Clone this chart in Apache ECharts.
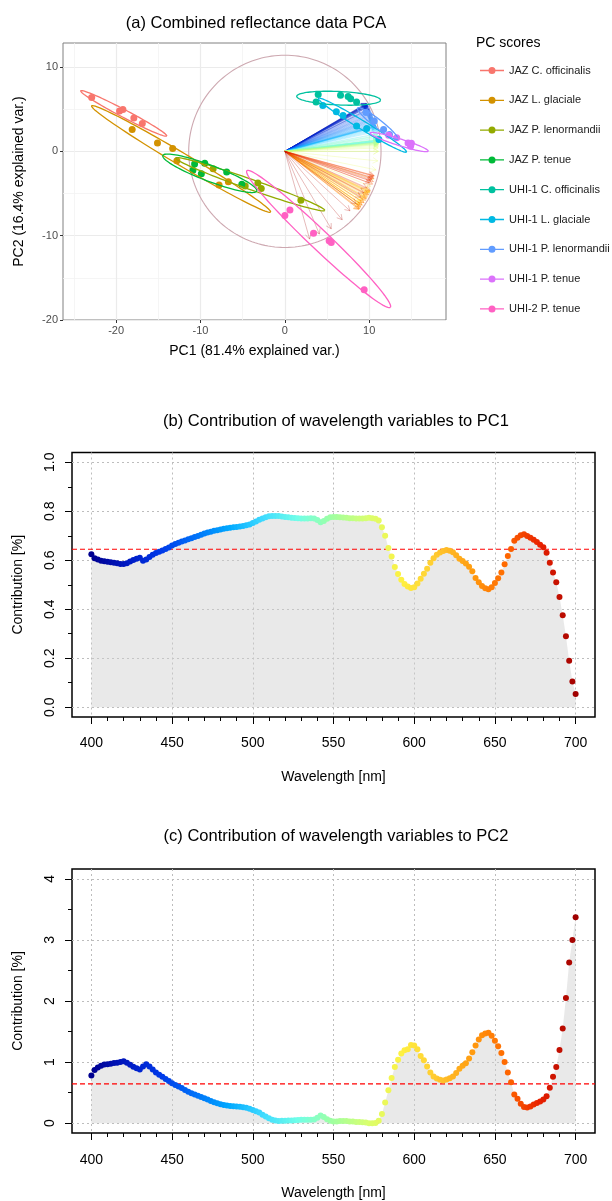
<!DOCTYPE html>
<html>
<head>
<meta charset="UTF-8">
<title>PCA reflectance</title>
<script src="https://cdn.jsdelivr.net/npm/echarts@6.0.0/dist/echarts.min.js"></script>
<style>
  html, body { margin: 0; padding: 0; background: #fff; }
  #main { width: 612px; height: 1201px; }
</style>
</head>
<body>
<div id="main"></div>
<script>
// ---------- panel (a): PCA scores ----------
var groupNames = ['JAZ C. officinalis', 'JAZ L. glaciale', 'JAZ P. lenormandii', 'JAZ P. tenue',
  'UHI-1 C. officinalis', 'UHI-1 L. glaciale', 'UHI-1 P. lenormandii', 'UHI-1 P. tenue', 'UHI-2 P. tenue'];
var groupColors = ['#F8766D', '#D39200', '#93AA00', '#00BA38', '#00C19F', '#00B9E3', '#619CFF', '#DB72FB', '#FF61C3'];

var jazCoff = [[-22.9, 6.4], [-19.6, 4.8], [-19.2, 4.95], [-17.9, 3.95], [-16.9, 3.3]];
var jazLgla = [[-18.1, 2.6], [-15.1, 1.0], [-13.3, 0.35], [-12.8, -1.1], [-7.8, -4.0], [-6.7, -3.6]];
var jazPlen = [[-8.5, -2.05], [-4.7, -4.1], [-3.2, -3.75], [-2.8, -4.4], [1.9, -5.8]];
var jazPten = [[-10.7, -1.5], [-10.9, -2.25], [-9.9, -2.65], [-9.5, -1.4], [-6.9, -2.45], [-5.1, -3.9]];
var uhi1Coff = [[3.95, 6.75], [3.7, 5.85], [6.6, 6.65], [7.5, 6.5], [7.8, 6.25], [8.5, 5.85]];
var uhi1Lgla = [[4.5, 5.45], [6.1, 4.7], [6.9, 4.25], [8.5, 3.0], [9.7, 2.7], [11.15, 1.4]];
var uhi1Plen = [[9.6, 4.6], [10.6, 3.6], [11.7, 2.6], [12.4, 2.0]];
var uhi1Pten = [[12.3, 1.9], [13.25, 1.6], [14.6, 1.0], [14.9, 0.6], [15.0, 0.95]];
var uhi2Pten = [[0, -7.6], [0.6, -6.95], [3.4, -9.7], [5.25, -10.6], [5.5, -10.8], [9.4, -16.4]];
var groupPoints = [jazCoff, jazLgla, jazPlen, jazPten, uhi1Coff, uhi1Lgla, uhi1Plen, uhi1Pten, uhi2Pten];

// ellipse per group: [centre x, centre y, semi-major, semi-minor, angle (deg)]
var groupEllipses = [
  [-19.1, 4.5, 5.75, 0.45, -27.7],
  [-12.3, -0.9, 12.33, 0.75, -30.7],
  [-4.1, -3.9, 9.35, 0.6, -19.4],
  [-8.9, -2.6, 5.95, 0.95, -20.7],
  [6.37, 6.3, 4.97, 0.8, -2.6],
  [9.2, 3.1, 6.1, 0.5, -31.4],
  [11.0, 3.3, 3.0, 0.5, -38],
  [13.55, 1.1, 3.6, 0.4, -17.4],
  [4.0, -10.4, 11.74, 1.15, -43.6]
];
var circleR = 11.4;
var varRatio = Math.sqrt(81.4 / 16.4);   // sdev PC1 / sdev PC2
var pc2SignFlip = 578;                   // PC2 loadings change sign here

var pcaXTicks = [-20, -10, 0, 10];
var pcaXMinor = [-25, -15, -5, 5, 15];
var pcaYTicks = [-20, -10, 0, 10];
var pcaYMinor = [-15, -5, 5];

// ---------- panels (b) and (c): contributions ----------
var wavelengths = [400, 402, 404, 406, 408, 410, 412, 414, 416, 418, 420, 422, 424, 426, 428, 430, 432, 434, 436, 438,
  440, 442, 444, 446, 448, 450, 452, 454, 456, 458, 460, 462, 464, 466, 468, 470, 472, 474, 476, 478,
  480, 482, 484, 486, 488, 490, 492, 494, 496, 498, 500, 502, 504, 506, 508, 510, 512, 514, 516, 518,
  520, 522, 524, 526, 528, 530, 532, 534, 536, 538, 540, 542, 544, 546, 548, 550, 552, 554, 556, 558,
  560, 562, 564, 566, 568, 570, 572, 574, 576, 578, 580, 582, 584, 586, 588, 590, 592, 594, 596, 598,
  600, 602, 604, 606, 608, 610, 612, 614, 616, 618, 620, 622, 624, 626, 628, 630, 632, 634, 636, 638,
  640, 642, 644, 646, 648, 650, 652, 654, 656, 658, 660, 662, 664, 666, 668, 670, 672, 674, 676, 678,
  680, 682, 684, 686, 688, 690, 692, 694, 696, 698, 700];

var contribPC1 = [0.625, 0.608, 0.603, 0.598, 0.596, 0.594, 0.592, 0.590, 0.588, 0.585,
  0.585, 0.588, 0.595, 0.601, 0.606, 0.610, 0.598, 0.603, 0.613, 0.622,
  0.630, 0.635, 0.640, 0.646, 0.652, 0.660, 0.666, 0.672, 0.677, 0.681,
  0.686, 0.690, 0.695, 0.699, 0.704, 0.709, 0.713, 0.716, 0.720, 0.723,
  0.726, 0.729, 0.731, 0.733, 0.735, 0.736, 0.738, 0.740, 0.743, 0.746,
  0.752, 0.758, 0.765, 0.771, 0.776, 0.780, 0.781, 0.781, 0.781, 0.779,
  0.777, 0.776, 0.774, 0.773, 0.772, 0.771, 0.771, 0.771, 0.772, 0.771,
  0.764, 0.755, 0.760, 0.770, 0.776, 0.777, 0.777, 0.776, 0.775, 0.774,
  0.772, 0.772, 0.771, 0.771, 0.771, 0.772, 0.774, 0.772, 0.769, 0.762,
  0.735, 0.700, 0.650, 0.615, 0.572, 0.544, 0.520, 0.503, 0.493, 0.487,
  0.490, 0.505, 0.525, 0.545, 0.565, 0.590, 0.608, 0.622, 0.632, 0.638,
  0.642, 0.639, 0.633, 0.620, 0.606, 0.597, 0.587, 0.574, 0.555, 0.528,
  0.510, 0.495, 0.486, 0.482, 0.490, 0.507, 0.527, 0.550, 0.584, 0.617,
  0.646, 0.680, 0.692, 0.702, 0.706, 0.699, 0.692, 0.684, 0.675, 0.663,
  0.653, 0.631, 0.590, 0.550, 0.510, 0.450, 0.375, 0.290, 0.190, 0.105,
  0.054];

var contribPC2 = [0.78, 0.87, 0.91, 0.94, 0.96, 0.967, 0.975, 0.984, 0.99, 1.0,
  1.015, 0.99, 0.955, 0.925, 0.90, 0.88, 0.93, 0.965, 0.93, 0.88,
  0.83, 0.795, 0.76, 0.725, 0.69, 0.655, 0.625, 0.60, 0.575, 0.545,
  0.515, 0.49, 0.47, 0.45, 0.43, 0.41, 0.39, 0.365, 0.345, 0.325,
  0.31, 0.30, 0.29, 0.282, 0.277, 0.273, 0.268, 0.262, 0.255, 0.235,
  0.215, 0.195, 0.175, 0.14, 0.11, 0.08, 0.055, 0.045, 0.038, 0.04,
  0.042, 0.044, 0.046, 0.05, 0.053, 0.055, 0.055, 0.055, 0.055, 0.062,
  0.09, 0.125, 0.10, 0.065, 0.04, 0.027, 0.03, 0.035, 0.038, 0.035,
  0.03, 0.027, 0.022, 0.02, 0.016, 0.01, 0.0, 0.0, 0.005, 0.04,
  0.15, 0.34, 0.54, 0.74, 0.92, 1.04, 1.14, 1.195, 1.21, 1.28,
  1.27, 1.21, 1.10, 1.03, 0.93, 0.83, 0.765, 0.73, 0.71, 0.70,
  0.715, 0.735, 0.765, 0.82, 0.89, 0.94, 0.98, 1.06, 1.16, 1.27,
  1.37, 1.44, 1.47, 1.48, 1.43, 1.35, 1.26, 1.15, 1.0, 0.83,
  0.67, 0.47, 0.40, 0.32, 0.265, 0.256, 0.272, 0.305, 0.33, 0.355,
  0.39, 0.44, 0.58, 0.76, 0.92, 1.2, 1.55, 2.05, 2.63, 3.0,
  3.37];

var meanContrib = 0.645;
var wlMin = 388, wlMax = 712;
var wlTicks = [400, 450, 500, 550, 600, 650, 700];
var wlMinor = [410, 420, 430, 440, 460, 470, 480, 490, 510, 520, 530, 540, 560, 570, 580, 590,
  610, 620, 630, 640, 660, 670, 680, 690];
var pc1Ticks = [0, 0.2, 0.4, 0.6, 0.8, 1.0];
var pc1Minor = [0.1, 0.3, 0.5, 0.7, 0.9];
var pc2Ticks = [0, 1, 2, 3, 4];
var pc2Minor = [0.5, 1.5, 2.5, 3.5];

var spectrum = ['#000090', '#0018C0', '#0038E8', '#0070F8', '#00A8FF', '#40DCFF', '#70FFE8', '#A0FFA0',
  '#D8FF70', '#FFF040', '#FFC830', '#FF9C10', '#FF6800', '#E82000', '#A00000'];

// ---------- build ----------
var font = 'Liberation Sans, Arial, sans-serif';

function pairs(xs, ys) {
  return xs.map(function (x, i) { return [x, ys[i]]; });
}

// loading arrows: direction from the two contribution profiles
var arrowRaw = wavelengths.map(function (wl, i) {
  return [wl, varRatio * Math.sqrt(contribPC1[i]), (wl < pc2SignFlip ? 1 : -1) * Math.sqrt(contribPC2[i])];
});
var maxLen = 0;
arrowRaw.forEach(function (d) { maxLen = Math.max(maxLen, Math.sqrt(d[1] * d[1] + d[2] * d[2])); });
var arrowData = arrowRaw.map(function (d) {
  return [d[0], d[1] * circleR * 0.99 / maxLen, d[2] * circleR * 0.99 / maxLen];
});

function renderCircle(params, api) {
  var pts = [];
  for (var k = 0; k <= 180; k++) {
    var t = k / 180 * 2 * Math.PI;
    pts.push(api.coord([api.value(2) * Math.cos(t), api.value(2) * Math.sin(t)]));
  }
  return { type: 'polyline', shape: { points: pts }, style: { stroke: '#CDA8B0', fill: null, lineWidth: 1.1 } };
}

function renderEllipse(params, api) {
  var cx = api.value(0), cy = api.value(1), a = api.value(2), b = api.value(3);
  var ang = api.value(4) * Math.PI / 180;
  var pts = [];
  for (var k = 0; k <= 100; k++) {
    var t = k / 100 * 2 * Math.PI;
    var ex = a * Math.cos(t), ey = b * Math.sin(t);
    pts.push(api.coord([cx + ex * Math.cos(ang) - ey * Math.sin(ang), cy + ex * Math.sin(ang) + ey * Math.cos(ang)]));
  }
  return { type: 'polyline', shape: { points: pts }, style: { stroke: api.visual('color'), fill: null, lineWidth: 1.3 } };
}

function renderArrow(params, api) {
  var o = api.coord([0, 0]);
  var t = api.coord([api.value(1), api.value(2)]);
  var dx = t[0] - o[0], dy = t[1] - o[1];
  var len = Math.sqrt(dx * dx + dy * dy) || 1;
  var ux = dx / len, uy = dy / len, h = 5, w = h * Math.tan(Math.PI / 6);
  var p1 = [t[0] - ux * h - uy * w, t[1] - uy * h + ux * w];
  var p2 = [t[0] - ux * h + uy * w, t[1] - uy * h - ux * w];
  var col = api.visual('color');
  return {
    type: 'group',
    children: [
      { type: 'line', shape: { x1: o[0], y1: o[1], x2: t[0], y2: t[1] }, style: { stroke: col, lineWidth: 0.8, opacity: 0.35 } },
      { type: 'polyline', shape: { points: [p1, t, p2] }, style: { stroke: col, fill: null, lineWidth: 0.8, opacity: 0.35 } }
    ]
  };
}

var series = [];
series.push({
  type: 'custom', name: 'circle', xAxisIndex: 0, yAxisIndex: 0, z: 1, silent: true,
  renderItem: renderCircle, encode: { x: 0, y: 1 }, data: [[0, 0, circleR]]
});
var arrowIdx = series.length;
series.push({
  type: 'custom', name: 'loadings', xAxisIndex: 0, yAxisIndex: 0, z: 2, silent: true,
  renderItem: renderArrow, encode: { x: 1, y: 2 }, data: arrowData
});
groupNames.forEach(function (n, i) {
  series.push({
    type: 'scatter', name: n, xAxisIndex: 0, yAxisIndex: 0, z: 3,
    symbolSize: 7, itemStyle: { color: groupColors[i], opacity: 1 }, data: groupPoints[i]
  });
});
groupNames.forEach(function (n, i) {
  series.push({
    type: 'custom', name: n, xAxisIndex: 0, yAxisIndex: 0, z: 4, silent: true,
    itemStyle: { color: groupColors[i] },
    renderItem: renderEllipse, encode: { x: 0, y: 1 }, data: [groupEllipses[i]]
  });
});

var idxB, idxC;
[[contribPC1, 2], [contribPC2, 4]].forEach(function (cfg, k) {
  var axisIdx = cfg[1];
  series.push({
    type: 'line', xAxisIndex: axisIdx, yAxisIndex: axisIdx, data: pairs(wavelengths, cfg[0]),
    symbol: 'none', silent: true, z: 1,
    lineStyle: { width: 0, opacity: 0 },
    areaStyle: { color: '#CFCFCF', opacity: 0.45 }
  });
  // mean contribution reference line, spanning the plot box
  series.push({
    type: 'line', xAxisIndex: axisIdx, yAxisIndex: axisIdx, data: [[wlMin, meanContrib], [wlMax, meanContrib]],
    symbol: 'none', silent: true, z: 2, itemStyle: { color: '#FF0000' },
    lineStyle: { color: '#FF0000', type: [5, 3], width: 1.2 }
  });
  if (k === 0) idxB = series.length; else idxC = series.length;
  series.push({
    type: 'scatter', xAxisIndex: axisIdx, yAxisIndex: axisIdx, data: pairs(wavelengths, cfg[0]),
    symbolSize: 6, z: 3, itemStyle: { opacity: 1 }
  });
});

function rAxisX(grid, ticks, minor, name, margin, gap) {
  return [{
    gridIndex: grid, type: 'value', min: wlMin, max: wlMax, position: 'bottom',
    axisLine: { show: false, onZero: false },
    axisTick: { show: true, customValues: ticks, length: 7, lineStyle: { color: '#000', width: 1 } },
    axisLabel: { customValues: ticks, color: '#000', fontSize: 14, margin: margin, fontFamily: font },
    splitLine: { show: true, lineStyle: { color: '#BDBDBD', type: [2, 3], width: 1 } },
    name: name, nameLocation: 'middle', nameGap: gap,
    nameTextStyle: { color: '#000', fontSize: 14, fontFamily: font }
  }, {
    gridIndex: grid, type: 'value', min: wlMin, max: wlMax, position: 'bottom',
    axisLine: { show: false, onZero: false },
    axisTick: { show: true, customValues: minor, length: 4, lineStyle: { color: '#000', width: 1 } },
    axisLabel: { show: false }, splitLine: { show: false }
  }];
}
function rAxisY(grid, min, max, ticks, minor, digits) {
  return [{
    gridIndex: grid, type: 'value', min: min, max: max, position: 'left',
    axisLine: { show: false, onZero: false },
    axisTick: { show: true, customValues: ticks, length: 7, lineStyle: { color: '#000', width: 1 } },
    axisLabel: {
      customValues: ticks, color: '#000', fontSize: 14, margin: 15, rotate: 90, fontFamily: font,
      formatter: function (v) { return v.toFixed(digits); }
    },
    splitLine: { show: true, lineStyle: { color: '#BDBDBD', type: [2, 3], width: 1 } },
    name: 'Contribution [%]', nameLocation: 'middle', nameGap: 47,
    nameTextStyle: { color: '#000', fontSize: 14, fontFamily: font }
  }, {
    gridIndex: grid, type: 'value', min: min, max: max, position: 'left',
    axisLine: { show: false, onZero: false },
    axisTick: { show: true, customValues: minor, length: 4, lineStyle: { color: '#000', width: 1 } },
    axisLabel: { show: false }, splitLine: { show: false }
  }];
}

var xAxes = [{
  gridIndex: 0, type: 'value', min: -26.3, max: 19.1, position: 'bottom',
  axisLine: { show: false, onZero: false },
  axisTick: { show: true, customValues: pcaXTicks, length: 3, lineStyle: { color: '#333' } },
  axisLabel: { customValues: pcaXTicks, color: '#4D4D4D', fontSize: 11, margin: 5, fontFamily: font },
  splitLine: { show: true, lineStyle: { color: '#EBEBEB', width: 1.2 } },
  name: 'PC1 (81.4% explained var.)', nameLocation: 'middle', nameGap: 24,
  nameTextStyle: { color: '#000', fontSize: 14, fontFamily: font }
}, {
  gridIndex: 0, type: 'value', min: -26.3, max: 19.1, position: 'top',
  axisLine: { show: false, onZero: false }, axisTick: { show: false, customValues: pcaXMinor },
  axisLabel: { show: false, customValues: pcaXMinor },
  splitLine: { show: true, lineStyle: { color: '#F2F2F2', width: 0.8 } }
}].concat(rAxisX(1, wlTicks, wlMinor, 'Wavelength [nm]', 19, 53), rAxisX(2, wlTicks, wlMinor, 'Wavelength [nm]', 20, 53));

var yAxes = [{
  gridIndex: 0, type: 'value', min: -20, max: 12.85, position: 'left',
  axisLine: { show: false, onZero: false },
  axisTick: { show: true, customValues: pcaYTicks, length: 3, lineStyle: { color: '#333' } },
  axisLabel: { customValues: pcaYTicks, color: '#4D4D4D', fontSize: 11, margin: 5, fontFamily: font },
  splitLine: { show: true, lineStyle: { color: '#EBEBEB', width: 1.2 } },
  name: 'PC2 (16.4% explained var.)', nameLocation: 'middle', nameGap: 37,
  nameTextStyle: { color: '#000', fontSize: 14, fontFamily: font }
}, {
  gridIndex: 0, type: 'value', min: -20, max: 12.85, position: 'right',
  axisLine: { show: false, onZero: false }, axisTick: { show: false, customValues: pcaYMinor },
  axisLabel: { show: false, customValues: pcaYMinor },
  splitLine: { show: true, lineStyle: { color: '#F2F2F2', width: 0.8 } }
}].concat(rAxisY(1, -0.04, 1.04, pc1Ticks, pc1Minor, 1), rAxisY(2, -0.16, 4.16, pc2Ticks, pc2Minor, 0));

var legendIcon = 'path://M0,3.1H24V4.4H0Z M15.5,3.75A3.5,3.5 0 1 1 8.5,3.75A3.5,3.5 0 1 1 15.5,3.75Z';

var option = {
  animation: false,
  backgroundColor: '#fff',
  textStyle: { fontFamily: font },
  title: [
    { text: '(a) Combined reflectance data PCA', left: 251, top: 10, textAlign: 'center',
      textStyle: { fontSize: 16.5, fontWeight: 'normal', color: '#000', fontFamily: font } },
    { text: 'PC scores', left: 471, top: 31,
      textStyle: { fontSize: 14, fontWeight: 'normal', color: '#000', fontFamily: font } },
    { text: '(b) Contribution of wavelength variables to PC1', left: 331, top: 408, textAlign: 'center',
      textStyle: { fontSize: 16.5, fontWeight: 'normal', color: '#000', fontFamily: font } },
    { text: '(c) Contribution of wavelength variables to PC2', left: 331, top: 823, textAlign: 'center',
      textStyle: { fontSize: 16.5, fontWeight: 'normal', color: '#000', fontFamily: font } }
  ],
  legend: {
    orient: 'vertical', left: 475, top: 60, icon: legendIcon, itemWidth: 24, itemHeight: 7,
    itemGap: 18.8, selectedMode: false, data: groupNames,
    textStyle: { fontSize: 11, color: '#1A1A1A', fontFamily: font }
  },
  visualMap: {
    type: 'continuous', show: false, dimension: 0, min: 400, max: 700,
    seriesIndex: [arrowIdx, idxB, idxC], inRange: { color: spectrum }
  },
  grid: [
    { left: 63, top: 43, width: 383, height: 277, show: true, borderColor: '#808080', borderWidth: 1, backgroundColor: '#fff' },
    { left: 72, top: 452.5, width: 523, height: 264.5, show: true, borderColor: '#000', borderWidth: 1.5 },
    { left: 72, top: 869, width: 523, height: 264, show: true, borderColor: '#000', borderWidth: 1.5 }
  ],
  xAxis: xAxes,
  yAxis: yAxes,
  series: series
};

var chart = echarts.init(document.getElementById('main'), null, { renderer: 'canvas' });
chart.setOption(option);
</script>
</body>
</html>
